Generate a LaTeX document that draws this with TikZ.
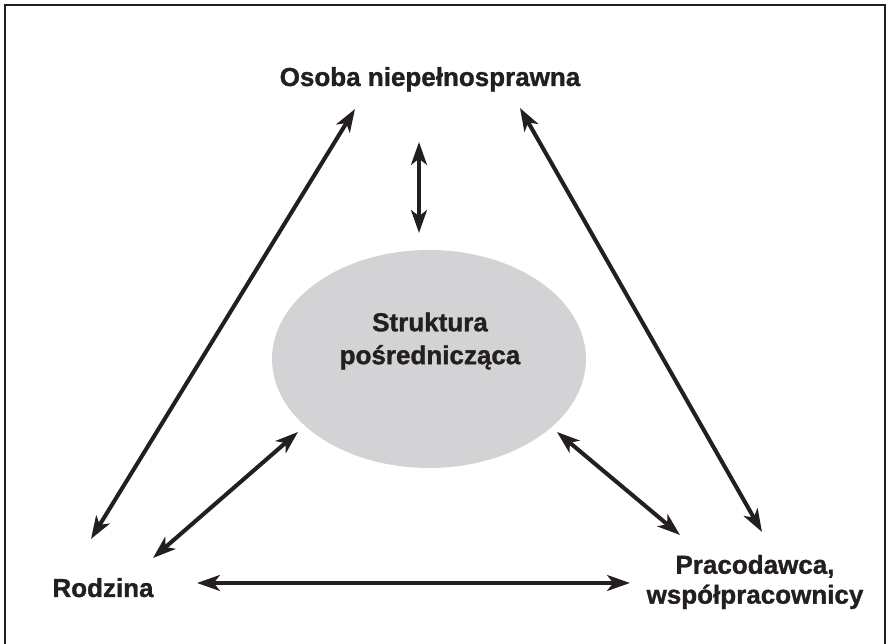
\documentclass[tikz,border=0pt]{standalone}
\usepackage{fontspec}
\setmainfont[BoldFeatures={FakeBold=1.2}]{Liberation Sans}
\usetikzlibrary{arrows.meta, shapes.geometric}
\definecolor{cink}{HTML}{231F20}
\definecolor{cfill}{HTML}{D3D3D5}
\tikzset{
  every picture/.style={x=0.02cm, y=0.02cm},
  lbl/.style={font=\fontsize{14.8}{17}\selectfont\bfseries, text=cink, align=center, inner sep=0pt},
  blob/.style={ellipse, fill=cfill, minimum width=6.28cm, minimum height=4.36cm, inner sep=0pt},
  arrow/.style={{Stealth[length=13pt, width=9pt, inset=3.5pt]}-{Stealth[length=13pt, width=9pt, inset=3.5pt]}, draw=cink, line width=2.3pt},
  frame/.style={draw=cink, line width=1.6pt},
}

\begin{document}
\begin{tikzpicture}
  \useasboundingbox (0,0) rectangle (887,644);
  \draw[frame] (5,0) -- (5,639) -- (885,639) -- (885,0);
  % the four parties
  \node[blob] (struktura) at (429,285) {};
  \node[lbl] (strukturaTxt) at (430,303) {Struktura\\[1.7pt]pośrednicząca};
  \node[lbl, anchor=base] (osoba) at (430,558) {Osoba niepełnosprawna};
  \node[lbl, anchor=base] (rodzina) at (103,47) {Rodzina};
  \node[lbl] (pracodawca) at (755,62) {Pracodawca,\\współpracownicy};
  % arrow ends
  \coordinate (rodzinaUp) at (91,105);
  \coordinate (osobaL) at (355,535);
  \coordinate (osobaR) at (520,536);
  \coordinate (pracodawcaUp) at (762,112);
  \coordinate (osobaDown) at (419,502);
  \coordinate (strukturaUp) at (419,411);
  \coordinate (rodzinaR) at (153,86);
  \coordinate (strukturaL) at (298,212);
  \coordinate (strukturaR) at (557,212);
  \coordinate (pracodawcaL) at (680,109);
  \coordinate (rodzinaEnd) at (197,61);
  \coordinate (pracodawcaEnd) at (630,61);
  \draw[arrow] (rodzinaUp) -- (osobaL);
  \draw[arrow] (osobaR) -- (pracodawcaUp);
  \draw[arrow] (osobaDown) -- (strukturaUp);
  \draw[arrow] (rodzinaR) -- (strukturaL);
  \draw[arrow] (strukturaR) -- (pracodawcaL);
  \draw[arrow] (rodzinaEnd) -- (pracodawcaEnd);
\end{tikzpicture}
\end{document}
